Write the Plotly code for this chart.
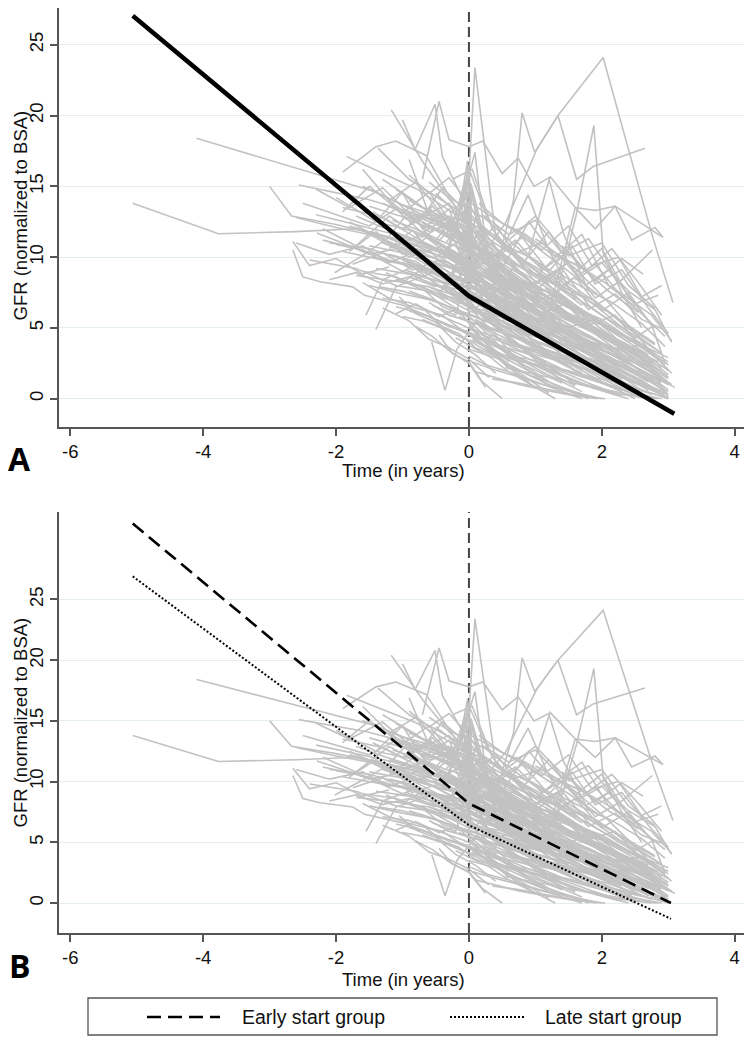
import plotly.graph_objects as go

# ---------------- data ----------------
# Individual patient GFR trajectories (time in years relative to dialysis start, GFR)
trajectories = [
    ([-5.06, -3.77, -2.6, -1.7, -1.0, -0.4, 0.05, 0.6, 1.2], [13.8, 11.65, 11.8, 12.0, 11.2, 10.3, 9.0, 7.1, 5.4]),
    ([-4.1, -1.4, -0.7, 0.02, 0.5, 1.1, 1.7], [18.4, 14.6, 13.0, 11.3, 9.4, 7.5, 5.0]),
    ([-3.0, -2.67, -2.0, -1.3, -0.6, 0.0, 0.6, 1.3], [15.0, 12.9, 12.3, 11.5, 10.6, 9.6, 6.3, 4.0]),
    ([-2.56, -1.54, -0.9, -0.3, 0.1, 0.6, 1.4, 2.0], [15.1, 14.1, 13.2, 12.3, 11.0, 8.6, 5.3, 3.1]),
    ([-2.65, -2.5, -2.24, -1.75, -1.57, -1.0, -0.4, 0.2, 0.9, 1.6], [10.5, 8.6, 8.26, 7.9, 7.3, 6.6, 5.4, 4.1, 2.6, 0.9]),
    ([-2.02, -1.64, -1.2, -0.6, 0.0, 0.8, 1.5], [8.9, 10.0, 11.4, 9.8, 8.1, 5.2, 3.2]),
    ([-1.55, -1.3, -0.8, -0.2, 0.3, 0.9], [5.9, 8.4, 9.4, 7.6, 5.5, 3.3]),
    ([-0.56, -0.36, -0.18, 0.1, 0.6, 1.2, 1.8], [4.0, 0.6, 3.5, 5.4, 3.1, 1.2, 0.0]),
    ([-1.4, -1.1, -0.5, 0.1, 0.9, 1.6], [4.9, 7.9, 9.0, 6.8, 4.1, 2.0]),
    ([-0.6, -0.05, 0.09, 0.4, 1.0, 1.6, 2.2], [12.5, 11.5, 23.4, 11.5, 9.1, 6.0, 3.8]),
    ([0.1, 0.55, 1.02, 1.34, 2.02, 2.76, 3.07], [9.5, 12.4, 17.6, 20.0, 24.1, 11.5, 6.8]),
    ([0.45, 0.67, 0.8, 0.99, 1.34, 1.62, 1.87, 2.65], [9.8, 14.0, 20.2, 17.4, 20.0, 15.5, 16.4, 17.7]),
    ([1.3, 1.62, 1.88, 2.02, 2.3, 2.6], [7.0, 13.1, 19.3, 10.3, 7.5, 5.0]),
    ([-1.0, -0.81, -0.51, -0.4, 0.0, 0.5, 1.1], [19.7, 17.6, 20.8, 17.1, 13.2, 10.1, 7.6]),
    ([-0.7, -0.45, -0.3, 0.0, 0.21, 0.5, 0.74, 0.98, 1.2, 1.42, 1.8], [15.5, 21.0, 18.3, 17.8, 18.2, 15.9, 17.0, 15.0, 15.6, 11.7, 7.6]),
    ([-1.17, -0.69, -0.3, 0.1, 0.7, 1.3], [20.4, 16.7, 14.1, 12.0, 8.2, 5.6]),
    ([-1.84, -0.78, -0.2, 0.3, 0.9], [17.1, 14.8, 13.0, 11.0, 8.4]),
    ([-1.37, -0.9, -0.4, 0.1, 0.8, 1.5], [17.7, 15.5, 14.0, 12.5, 9.6, 6.8]),
    ([1.2, 1.6, 1.9, 2.2, 2.92], [6.0, 13.5, 12.0, 13.6, 11.4]),
    ([-0.3, 0.09, 0.3, 0.8, 1.4], [10.5, 17.4, 9.0, 6.5, 4.0]),
    ([-0.25, 0.05, 0.35, 0.9], [15.5, 16.2, 12.0, 8.8]),
    ([-0.9, -0.6, -0.1, 0.4], [16.9, 13.0, 11.0, 8.0]),
    ([-1.9, -1.4, -1.1, -0.65, -0.2, 0.2], [16.0, 17.8, 18.2, 17.2, 13.5, 11.0]),
    ([-1.8, -1.2, -0.6, 0.0, 0.5, 1.1, 1.7], [12.5, 11.0, 9.8, 8.0, 6.5, 4.2, 2.0]),
    ([-1.5, -0.9, -0.3, 0.1, 0.6, 1.3, 2.0, 2.6], [10.8, 10.2, 8.5, 7.1, 6.0, 4.8, 2.5, 0.6]),
    ([-1.2, -0.7, -0.2, 0.05, 0.4, 0.9, 1.5], [14.0, 12.2, 11.5, 9.0, 7.8, 5.5, 3.0]),
    ([-0.9, -0.5, -0.1, 0.2, 0.7, 1.4], [9.5, 8.1, 7.4, 5.8, 3.9, 1.2]),
    ([-2.2, -1.6, -1.0, -0.4, 0.0, 0.6, 1.2, 1.9, 2.5], [11.2, 10.5, 9.0, 8.2, 6.5, 5.8, 4.6, 3.1, 1.5]),
    ([-1.0, -0.6, -0.2, 0.0, 0.3, 0.8, 1.4, 2.1], [13.2, 11.8, 12.5, 10.2, 9.4, 7.0, 5.2, 2.8]),
    ([-0.7, -0.4, -0.1, 0.2, 0.6], [7.8, 6.5, 5.9, 4.2, 2.1]),
    ([-1.6, -1.1, -0.5, -0.1, 0.3, 0.9, 1.6, 2.3, 2.9], [9.0, 8.6, 7.5, 6.8, 5.9, 4.5, 3.6, 1.9, 0.4]),
    ([-1.3, -0.8, -0.3, 0.0, 0.4, 1.0], [15.5, 13.9, 12.0, 11.4, 8.8, 6.1]),
    ([-0.5, -0.2, 0.0, 0.3, 0.8, 1.2, 1.8], [10.5, 9.8, 8.7, 8.0, 6.2, 4.9, 2.7]),
    ([-2.4, -1.7, -1.1, -0.6, -0.1, 0.4, 1.0, 1.7], [9.8, 9.2, 8.0, 7.6, 6.1, 5.2, 3.5, 1.8]),
    ([-1.9, -1.3, -0.7, -0.2, 0.1, 0.7, 1.3, 2.0, 2.7], [13.5, 12.8, 11.1, 10.0, 9.0, 8.2, 6.4, 4.5, 2.2]),
    ([-0.8, -0.4, 0.0, 0.3, 0.7, 1.1], [12.0, 10.9, 9.8, 7.5, 5.2, 3.4]),
    ([-1.1, -0.7, -0.3, 0.0, 0.5, 1.2, 1.8, 2.4], [8.4, 7.9, 7.0, 6.2, 5.5, 4.1, 2.6, 1.0]),
    ([-0.6, -0.3, 0.0, 0.2, 0.6, 1.1, 1.7], [6.8, 5.9, 5.5, 4.6, 3.2, 1.9, 0.5]),
    ([-1.4, -0.9, -0.4, 0.0, 0.3, 0.9, 1.5, 2.2], [11.6, 10.0, 10.8, 9.2, 7.0, 6.3, 4.7, 3.0]),
    ([-2.0, -1.4, -0.8, -0.3, 0.0, 0.4], [14.2, 12.5, 11.8, 10.6, 9.5, 7.2]),
    ([-0.4, -0.1, 0.1, 0.5, 1.0, 1.6, 2.3], [8.9, 8.0, 7.4, 6.1, 4.8, 3.3, 1.4]),
    ([-1.2, -0.8, -0.3, 0.0, 0.4, 0.9, 1.5, 2.1, 2.8], [10.2, 9.7, 8.2, 7.9, 6.8, 5.0, 4.1, 2.9, 1.1]),
    ([-0.3, 0.0, 0.2, 0.6, 1.0], [5.2, 4.7, 3.8, 2.2, 0.8]),
    ([-1.7, -1.2, -0.6, -0.1, 0.3, 0.8, 1.4, 2.0, 2.6, 3.0], [12.0, 11.4, 10.1, 9.2, 8.6, 7.5, 6.1, 4.4, 3.2, 1.7]),
    ([-0.9, -0.5, -0.2, 0.1, 0.6, 1.3, 2.0], [11.0, 10.2, 9.3, 8.5, 7.3, 5.4, 3.6]),
    ([-1.5, -1.0, -0.5, 0.0, 0.5, 1.1, 1.6], [8.0, 7.4, 6.9, 5.8, 4.0, 2.7, 1.0]),
    ([-0.6, -0.3, 0.0, 0.3, 0.8, 1.4, 2.0, 2.7], [13.5, 12.0, 11.0, 10.1, 8.7, 6.8, 5.2, 3.1]),
    ([-2.6, -2.0, -1.4, -0.8, -0.3, 0.1, 0.5, 1.0], [12.8, 12.1, 11.5, 10.3, 9.6, 8.1, 6.9, 5.1]),
    ([-0.2, 0.0, 0.2, 0.5, 0.9, 1.4, 2.0, 2.5], [7.0, 6.6, 6.0, 5.1, 4.0, 2.9, 1.4, 0.3]),
    ([-1.0, -0.6, -0.2, 0.1, 0.5, 1.0, 1.7, 2.4, 3.0], [9.8, 9.0, 8.7, 7.8, 6.6, 5.7, 4.2, 2.5, 1.0]),
    ([-1.3, -0.9, -0.5, -0.1, 0.2, 0.7, 1.2], [7.1, 6.8, 6.0, 5.2, 4.5, 2.7, 0.9]),
    ([-0.7, -0.3, 0.0, 0.4, 0.9, 1.5, 2.2, 2.8], [10.9, 10.1, 9.5, 8.9, 7.7, 6.6, 4.8, 3.3]),
    ([-1.9, -1.4, -0.9, -0.4, 0.0, 0.5, 1.1], [10.4, 9.9, 9.4, 8.3, 7.6, 5.9, 4.3]),
    ([-0.5, -0.2, 0.05, 0.3, 0.7, 1.2, 1.9, 2.5, 3.0], [12.6, 11.6, 10.5, 9.7, 8.4, 7.5, 5.7, 4.0, 2.4]),
    ([-1.1, -0.7, -0.3, 0.0, 0.4, 0.8], [6.5, 6.0, 5.1, 4.7, 3.0, 1.5]),
    ([-0.8, -0.5, -0.1, 0.2, 0.6, 1.0, 1.5, 2.1, 2.7], [8.6, 8.0, 7.7, 7.0, 6.4, 5.2, 4.3, 2.8, 1.2]),
    ([-1.6, -1.0, -0.5, -0.1, 0.3, 0.8, 1.4, 2.0], [15.0, 13.7, 12.9, 12.0, 10.4, 9.2, 7.8, 5.9]),
    ([-0.4, -0.1, 0.1, 0.4, 0.8, 1.3], [9.6, 8.8, 8.2, 6.9, 5.3, 3.9]),
    ([-2.1, -1.5, -0.9, -0.4, 0.0, 0.4, 0.9, 1.5, 2.2, 2.9], [11.0, 10.6, 9.7, 8.8, 8.4, 7.6, 6.8, 5.5, 3.9, 2.2]),
    ([-0.6, -0.3, 0.0, 0.3, 0.6, 1.0, 1.4], [7.9, 7.2, 6.9, 5.6, 4.2, 2.9, 1.6]),
    ([-1.0, -0.5, -0.1, 0.2, 0.7, 1.2, 1.8, 2.3], [12.8, 11.9, 10.8, 9.9, 8.0, 6.5, 4.9, 3.2]),
    ([-1.4, -0.9, -0.4, 0.0, 0.3, 0.7], [9.2, 8.8, 7.8, 6.5, 5.0, 2.9]),
    ([-0.3, 0.0, 0.3, 0.7, 1.2, 1.8, 2.4, 3.0], [11.4, 10.6, 9.8, 8.4, 7.1, 5.9, 4.2, 2.9]),
    ([-2.3, -1.8, -1.2, -0.7, -0.2, 0.2, 0.7, 1.3], [13.0, 12.4, 11.7, 10.9, 10.2, 8.8, 7.1, 5.6]),
    ([-0.9, -0.6, -0.2, 0.1, 0.5, 0.9, 1.4, 1.9, 2.4], [6.2, 5.8, 5.0, 4.4, 3.6, 2.5, 1.6, 0.7, 0.0]),
    ([-1.2, -0.8, -0.4, 0.0, 0.5, 1.0, 1.6, 2.2, 2.7], [11.8, 11.2, 10.2, 9.0, 8.1, 6.9, 5.4, 3.8, 2.0]),
    ([-0.5, -0.2, 0.0, 0.3, 0.6, 1.0, 1.5], [14.5, 13.2, 12.6, 10.8, 9.5, 7.9, 6.0]),
    ([-1.7, -1.1, -0.6, -0.2, 0.1, 0.6, 1.1, 1.7, 2.3, 2.9], [8.7, 8.3, 7.9, 7.3, 6.8, 5.9, 4.9, 3.7, 2.3, 0.9]),
    ([-0.8, -0.4, 0.0, 0.2, 0.6, 1.1, 1.6, 2.2], [10.0, 9.4, 8.9, 7.7, 6.9, 5.8, 4.4, 3.0]),
    ([-1.3, -0.8, -0.3, 0.05, 0.4, 0.8, 1.3], [13.8, 12.7, 11.6, 10.9, 9.0, 7.4, 5.7]),
    ([-0.2, 0.05, 0.3, 0.6, 1.0, 1.5, 2.0, 2.6, 3.1], [8.2, 7.8, 7.2, 6.5, 5.7, 4.6, 3.5, 2.0, 0.8]),
    ([-1.0, -0.7, -0.3, 0.0, 0.3, 0.7, 1.2, 1.7], [5.8, 5.5, 4.8, 4.1, 3.3, 2.1, 1.0, 0.2]),
    ([-1.8, -1.3, -0.8, -0.3, 0.0, 0.4, 1.0, 1.6, 2.2, 2.8], [12.2, 11.5, 10.6, 9.9, 9.3, 8.1, 7.0, 5.7, 4.0, 2.6]),
    ([0.0, 0.4, 0.8, 1.2, 1.6, 2.0, 2.4, 2.8], [10.0, 12.3, 9.5, 11.8, 8.9, 10.6, 7.2, 5.0]),
    ([-0.2, 0.3, 0.7, 1.1, 1.5, 1.9, 2.3, 2.62], [8.5, 9.8, 11.2, 9.1, 10.4, 8.3, 9.9, 8.8]),
    ([0.1, 0.5, 0.9, 1.3, 1.7, 2.1, 2.5], [11.5, 9.2, 12.5, 10.0, 11.6, 8.0, 6.5]),
    ([0.0, 0.6, 1.0, 1.5, 1.9, 2.3, 2.76], [9.0, 10.8, 8.2, 9.6, 7.1, 8.4, 10.5]),
    ([0.2, 0.7, 1.2, 1.6, 2.0, 2.4, 2.76], [7.5, 9.3, 7.0, 8.6, 6.2, 7.5, 5.1]),
    ([0.3, 0.8, 1.3, 1.8, 2.2, 2.6, 2.92], [8.0, 6.9, 8.8, 6.3, 7.4, 5.6, 4.9]),
    ([0.1, 0.5, 1.0, 1.5, 2.0, 2.5, 2.98], [6.4, 7.9, 5.9, 6.8, 4.5, 3.1, 1.6]),
    ([0.4, 0.9, 1.4, 1.8, 2.2, 2.62], [9.6, 7.8, 9.2, 6.6, 5.2, 3.8]),
    ([0.2, 0.7, 1.1, 1.6, 2.1, 2.5, 2.8], [12.2, 10.3, 11.0, 9.2, 6.8, 4.6, 3.0]),
    ([0.3, 0.89, 1.2, 1.6], [8.5, 14.4, 10.5, 7.0]),
    ([0.9, 1.22, 1.6, 1.9, 2.2, 2.45, 2.8, 2.92], [10.2, 15.7, 13.5, 13.3, 13.6, 11.2, 12.1, 11.4]),
    ([0.5, 1.0, 1.4, 1.9, 2.3, 2.7, 3.0], [5.5, 6.8, 4.9, 5.6, 3.9, 2.5, 0.1]),
    ([0.0, 0.4, 0.9, 1.3, 1.8, 2.2, 2.6, 2.95], [7.2, 8.1, 6.6, 7.5, 5.2, 5.9, 3.6, 2.4]),
    ([0.6, 1.0, 1.5, 2.0, 2.4, 2.8], [11.2, 12.9, 10.1, 11.0, 8.0, 6.4]),
    ([1.0, 1.4, 1.9, 2.3, 2.6, 2.95], [9.8, 8.0, 9.5, 7.2, 6.0, 4.4]),
    ([-2.3, -1.8, -1.3, -0.8, -0.3, 0.0], [14.8, 13.5, 14.9, 12.6, 13.8, 11.0]),
    ([-1.9, -1.5, -1.0, -0.6, -0.2, 0.1], [13.2, 15.0, 13.1, 14.6, 12.0, 10.5]),
    ([-1.6, -1.2, -0.8, -0.4, 0.0], [16.2, 14.0, 15.3, 13.0, 12.4]),
    ([-2.5, -2.0, -1.5, -1.1, -0.7, -0.3, 0.0], [13.8, 13.0, 12.2, 13.4, 11.7, 12.9, 10.8]),
    ([-1.4, -1.0, -0.7, -0.3, 0.0], [12.5, 14.6, 12.0, 13.4, 9.8]),
    ([-0.9, -0.6, -0.3, 0.0, 0.2], [15.8, 14.5, 15.6, 13.8, 12.0]),
    ([-2.2, -1.7, -1.2, -0.7, -0.3], [12.0, 10.8, 12.9, 11.4, 12.5]),
    ([-1.2, -0.9, -0.5, -0.2, 0.05], [11.5, 13.2, 10.9, 12.4, 14.0]),
    ([-0.7, -0.4, -0.1, 0.02, 0.3], [12.8, 14.9, 13.5, 16.0, 12.5]),
    ([-0.35, -0.1, 0.02, 0.2, 0.5], [11.0, 12.5, 15.0, 10.8, 9.0]),
    ([-1.8, -1.4, -1.0, -0.6, -0.2, 0.1, 0.4], [10.4, 11.8, 10.2, 11.5, 10.0, 10.9, 9.0]),
    ([-2.6, -2.1, -1.6, -1.2, -0.8], [11.0, 10.2, 10.8, 9.6, 10.4]),
    ([-1.3, -0.9, -0.6, -0.3, 0.0, 0.3], [6.4, 5.5, 4.2, 3.6, 2.8, 1.5]),
    ([-1.05, -0.8, -0.5, -0.2, 0.1, 0.4], [7.2, 6.0, 5.4, 4.0, 3.1, 1.8]),
    ([-0.8, -0.55, -0.3, 0.0, 0.25], [5.1, 4.4, 3.4, 2.5, 0.8]),
    ([-0.45, -0.25, 0.0, 0.2, 0.5], [4.5, 3.2, 2.6, 1.2, 0.0]),
    ([-1.6, -1.2, -0.8, -0.4, -0.1, 0.2, 0.6], [8.2, 7.1, 6.4, 5.9, 4.8, 3.9, 2.4]),
    ([-0.2, 0.0, 0.3, 0.6, 0.9, 1.3], [4.3, 3.8, 3.0, 1.9, 1.1, 0.0]),
    ([-0.65, -0.4, -0.15, 0.1, 0.4, 0.8, 1.2], [6.2, 5.1, 4.6, 3.6, 3.0, 1.7, 0.4]),
    ([0.0, 0.5, 1.0, 1.5, 2.0, 2.5], [5.0, 4.2, 3.1, 2.5, 1.2, 0.0]),
    ([0.2, 0.7, 1.2, 1.8, 2.3, 2.9], [4.5, 3.7, 3.0, 2.0, 0.9, 0.2]),
    ([0.0, 0.4, 0.9, 1.4, 1.9], [3.5, 2.9, 1.7, 0.8, 0.0]),
    ([0.5, 1.0, 1.6, 2.1, 2.6, 3.0], [6.0, 4.8, 3.9, 2.4, 1.3, 0.0]),
    ([0.1, 0.6, 1.1, 1.7, 2.2, 2.7], [6.2, 5.0, 4.3, 2.9, 2.0, 0.6]),
    ([0.3, 0.8, 1.3, 1.9, 2.4, 2.9], [3.2, 2.6, 2.2, 1.3, 0.5, 0.0]),
    ([0.8, 1.3, 1.8, 2.3, 2.8, 3.0], [5.2, 4.5, 3.1, 2.6, 1.0, 0.3]),
    ([1.0, 1.5, 2.0, 2.5, 3.0], [7.3, 5.8, 4.4, 3.2, 1.1]),
    ([0.6, 1.1, 1.6, 2.0, 2.5, 2.85], [2.9, 2.3, 1.2, 0.7, 0.2, 0.0]),
    ([1.3, 1.8, 2.2, 2.62, 2.8], [4.8, 4.1, 3.5, 3.8, 3.0]),
    ([0.4, 0.9, 1.4, 2.0, 2.6, 3.0], [7.8, 6.4, 5.5, 3.8, 2.3, 1.0]),
    ([1.5, 2.0, 2.4, 2.76, 2.95], [6.0, 5.2, 4.0, 5.1, 2.5]),
    ([-2.65, -2.4, -2.0, -1.6, -1.2], [11.1, 9.4, 9.9, 8.8, 9.3]),
    ([-2.29, -1.9, -1.5, -1.0], [11.7, 11.0, 10.2, 10.7]),
    ([-1.3, -0.9, -0.5, -0.15, 0.15, 0.5, 0.95, 1.45, 2.0, 2.5], [11.0, 10.3, 9.6, 9.0, 7.9, 7.0, 5.8, 4.6, 3.0, 1.4]),
    ([-0.95, -0.6, -0.25, 0.05, 0.35, 0.75, 1.2, 1.7, 2.2], [9.1, 8.5, 8.0, 7.3, 6.4, 5.6, 4.4, 3.1, 1.8]),
    ([-0.75, -0.45, -0.15, 0.1, 0.4, 0.8, 1.25, 1.75], [11.7, 10.9, 10.1, 9.6, 8.4, 7.1, 5.5, 3.9]),
    ([-1.15, -0.75, -0.35, 0.0, 0.35, 0.8, 1.3, 1.85, 2.4, 2.9], [12.6, 11.9, 11.0, 10.5, 9.1, 7.9, 6.6, 5.0, 3.5, 1.9]),
    ([-0.55, -0.3, -0.05, 0.2, 0.5, 0.9, 1.35], [8.3, 7.6, 7.2, 6.5, 5.2, 4.0, 2.6]),
    ([-0.35, -0.1, 0.15, 0.45, 0.85, 1.3, 1.8, 2.3], [6.0, 5.6, 5.2, 4.5, 3.6, 2.7, 1.5, 0.5]),
    ([-1.45, -1.05, -0.65, -0.3, 0.0, 0.3, 0.7, 1.2, 1.7], [10.0, 9.6, 9.0, 8.6, 8.1, 7.4, 6.2, 5.0, 3.6]),
    ([-0.85, -0.5, -0.2, 0.1, 0.45, 0.9, 1.4, 2.0, 2.6], [13.0, 12.3, 11.8, 10.8, 9.9, 8.6, 7.2, 5.4, 3.6]),
    ([0.05, 0.4, 0.8, 1.2, 1.6, 2.0, 2.4, 2.8], [8.8, 7.9, 7.0, 6.1, 5.0, 3.9, 2.6, 1.2]),
    ([0.1, 0.45, 0.85, 1.3, 1.75, 2.2, 2.65], [10.3, 9.1, 8.2, 6.9, 5.8, 4.2, 2.8]),
    ([0.0, 0.3, 0.65, 1.05, 1.5, 1.95, 2.4, 2.85], [6.0, 5.4, 4.9, 4.0, 3.3, 2.2, 1.3, 0.4]),
    ([0.2, 0.55, 0.95, 1.4, 1.85, 2.3, 2.75], [5.1, 4.6, 3.8, 3.0, 2.3, 1.2, 0.3]),
    ([0.15, 0.5, 0.9, 1.35, 1.8, 2.25], [3.9, 3.1, 2.6, 1.8, 0.9, 0.2]),
    ([0.05, 0.35, 0.7, 1.1, 1.55, 2.0], [2.6, 2.1, 1.6, 1.0, 0.5, 0.0]),
    ([0.4, 0.8, 1.25, 1.7, 2.15, 2.6, 3.0], [8.9, 7.6, 6.7, 5.4, 4.3, 3.0, 1.5]),
    ([0.3, 0.7, 1.1, 1.55, 2.0, 2.45, 2.9], [11.0, 9.5, 8.6, 7.3, 5.9, 4.6, 3.2]),
    ([0.6, 1.0, 1.45, 1.9, 2.35, 2.8], [10.4, 9.3, 7.8, 6.9, 5.2, 3.8]),
    ([0.8, 1.2, 1.65, 2.1, 2.55, 3.0], [8.4, 7.5, 6.3, 5.1, 3.9, 2.6]),
    ([1.1, 1.5, 1.95, 2.4, 2.85], [6.6, 5.6, 4.7, 3.4, 2.0]),
    ([1.4, 1.8, 2.25, 2.7, 3.05], [5.3, 4.5, 3.3, 2.2, 1.0]),
    ([1.7, 2.1, 2.5, 2.9], [3.9, 3.0, 2.0, 0.9]),
    ([0.9, 1.3, 1.7, 2.15, 2.6], [3.6, 3.0, 2.2, 1.5, 0.6]),
    ([1.2, 1.6, 2.0, 2.4, 2.8], [2.4, 1.7, 1.1, 0.6, 0.0]),
    ([-1.25, -0.85, -0.45, -0.1, 0.2, 0.55, 0.95, 1.4], [8.9, 8.0, 7.2, 6.7, 5.9, 5.0, 3.8, 2.6]),
    ([-0.7, -0.4, -0.1, 0.15, 0.45, 0.8, 1.2], [5.6, 5.0, 4.3, 3.9, 3.1, 2.2, 1.2]),
    ([-0.25, 0.0, 0.25, 0.55, 0.9, 1.3, 1.75, 2.2], [9.2, 9.0, 8.2, 7.4, 6.3, 5.2, 3.9, 2.4]),
    ([-2.0, -1.6, -1.2, -0.8, -0.4, 0.0, 0.35, 0.75], [10.9, 10.5, 9.8, 9.4, 8.9, 8.3, 7.6, 6.3]),
    ([-1.7, -1.3, -0.9, -0.5, -0.1, 0.2, 0.6], [12.9, 12.1, 11.4, 10.6, 10.0, 9.0, 7.6]),
    ([-1.1, -0.75, -0.4, -0.1, 0.15, 0.5, 0.9, 1.35, 1.8, 2.3], [14.8, 13.6, 12.8, 12.2, 11.6, 10.3, 8.9, 7.5, 5.9, 4.4]),
    ([-0.6, -0.3, 0.0, 0.25, 0.6, 1.0, 1.45, 1.95, 2.5], [15.3, 14.2, 13.4, 12.7, 11.2, 9.6, 8.1, 6.4, 4.3]),
    ([-0.45, -0.2, 0.05, 0.35, 0.75, 1.2, 1.7], [13.0, 12.5, 11.9, 11.1, 9.9, 8.4, 6.6]),
    ([0.0, 0.3, 0.6, 1.0, 1.4, 1.85, 2.3, 2.8], [12.5, 11.6, 10.7, 9.8, 8.5, 7.0, 5.5, 3.9]),
    ([0.15, 0.5, 0.85, 1.25, 1.7, 2.1, 2.55], [13.8, 12.4, 11.6, 10.2, 9.3, 7.6, 6.1]),
    ([-0.1, 0.1, 0.35, 0.7, 1.1, 1.5, 1.95], [14.2, 13.6, 12.9, 11.8, 10.4, 9.0, 7.3]),
    ([-1.5, -1.1, -0.7, -0.35, 0.0, 0.3, 0.65, 1.05], [13.6, 13.0, 12.5, 11.6, 11.0, 10.0, 8.8, 7.4]),
    ([-0.3, 0.0, 0.3, 0.65, 1.05, 1.5, 2.0, 2.6, 3.0], [7.5, 7.0, 6.6, 6.0, 5.0, 3.9, 2.9, 1.5, 0.5]),
    ([-0.9, -0.55, -0.25, 0.05, 0.35, 0.7, 1.1, 1.55], [7.6, 7.0, 6.4, 5.9, 5.3, 4.4, 3.4, 2.2]),
    ([-0.15, 0.1, 0.4, 0.75, 1.15, 1.6, 2.05, 2.5, 2.95], [5.8, 5.3, 4.9, 4.2, 3.5, 2.8, 2.0, 1.1, 0.2]),
    ([0.5, 0.9, 1.3, 1.75, 2.2, 2.65, 3.0], [4.2, 3.6, 2.9, 2.5, 1.7, 1.0, 0.0]),
    ([0.25, 0.6, 1.0, 1.45, 1.9, 2.35, 2.8], [7.0, 6.3, 5.6, 4.8, 3.9, 2.9, 1.8]),
    ([-0.05, 0.2, 0.55, 0.95, 1.4, 1.85, 2.3], [4.8, 4.3, 3.6, 2.7, 1.9, 1.0, 0.2]),
    ([0.1, 0.4, 0.75, 1.15, 1.6, 2.05], [1.9, 1.5, 1.0, 0.6, 0.2, 0.0]),
    ([0.7, 1.1, 1.5, 1.95, 2.4, 2.85], [7.9, 6.8, 6.0, 4.9, 3.7, 2.6]),
    ([1.0, 1.4, 1.85, 2.3, 2.75, 3.05], [11.3, 10.0, 8.8, 7.4, 5.9, 4.1]),
    ([1.3, 1.7, 2.15, 2.6, 2.95], [9.0, 7.9, 6.8, 5.3, 3.7]),
    ([-1.35, -1.0, -0.6, -0.25, 0.05, 0.4], [7.9, 7.6, 7.0, 6.4, 5.6, 4.8]),
    ([-0.2, 0.05, 0.3, 0.6, 0.95, 1.35, 1.8, 2.25, 2.7], [10.7, 10.2, 9.6, 8.6, 7.6, 6.4, 5.1, 3.8, 2.4]),
    ([0.35, 0.7, 1.1, 1.5, 1.95, 2.4, 2.85], [6.0, 5.3, 4.4, 3.8, 2.9, 2.2, 1.4]),
    ([0.55, 0.95, 1.4, 1.85, 2.3, 2.75], [2.2, 1.8, 1.3, 0.8, 0.3, 0.0]),
    ([-0.5, -0.25, 0.0, 0.3, 0.65, 1.05, 1.5, 2.0], [9.8, 9.3, 8.6, 8.0, 7.0, 5.8, 4.7, 3.4]),
    ([-0.5, -0.1, -0.02, 0.03, 0.3, 0.8], [11.2, 13.5, 9.0, 15.2, 10.1, 7.5]),
    ([-0.8, -0.2, 0.0, 0.06, 0.4, 1.0], [13.0, 12.0, 16.5, 10.0, 8.7, 6.2]),
    ([-0.4, -0.08, 0.01, 0.1, 0.5], [9.5, 14.0, 11.0, 12.8, 8.0]),
    ([-0.6, -0.15, -0.03, 0.04, 0.35, 0.9], [10.8, 9.9, 13.8, 8.4, 7.2, 4.8]),
    ([-0.25, -0.05, 0.02, 0.12, 0.45, 1.0], [12.2, 15.5, 10.5, 11.7, 8.2, 5.9]),
    ([-0.9, -0.3, -0.04, 0.05, 0.3, 0.7, 1.2], [14.0, 12.6, 11.0, 14.7, 9.3, 7.8, 5.0]),
    ([-0.35, -0.1, 0.0, 0.08, 0.25, 0.6], [8.0, 10.4, 7.2, 9.8, 6.1, 4.9]),
    ([-0.2, -0.02, 0.05, 0.2, 0.5, 0.9], [11.8, 16.8, 9.4, 10.2, 7.4, 5.6]),
    ([-0.7, -0.25, -0.06, 0.03, 0.2, 0.55, 1.1], [12.4, 11.3, 14.8, 12.0, 9.7, 8.3, 6.0]),
    ([-0.45, -0.12, -0.01, 0.07, 0.3], [7.4, 9.9, 12.3, 8.3, 6.0]),
    ([-0.15, 0.0, 0.04, 0.15, 0.4, 0.85, 1.4], [9.0, 6.1, 10.6, 8.0, 6.6, 4.6, 2.5]),
    ([-0.55, -0.2, -0.05, 0.02, 0.2, 0.6], [6.6, 5.9, 8.8, 5.0, 4.2, 2.6]),
    ([0.1, 0.4, 0.8, 1.2, 1.6, 2.0, 2.45], [5.6, 4.8, 4.2, 3.4, 2.6, 1.6, 0.6]),
    ([0.3, 0.65, 1.0, 1.4, 1.8, 2.2, 2.6], [4.0, 3.5, 3.0, 2.1, 1.6, 0.8, 0.1]),
    ([0.0, 0.25, 0.6, 0.95, 1.35, 1.7], [3.0, 2.4, 1.9, 1.3, 0.6, 0.0]),
    ([0.45, 0.85, 1.25, 1.65, 2.1, 2.5, 2.9], [6.6, 5.7, 5.0, 4.1, 3.2, 2.2, 1.2]),
    ([0.7, 1.05, 1.45, 1.85, 2.25, 2.65], [5.0, 4.3, 3.7, 2.7, 1.8, 0.9]),
    ([0.2, 0.5, 0.85, 1.25, 1.65, 2.05, 2.5, 2.95], [7.6, 6.8, 6.0, 5.3, 4.4, 3.4, 2.5, 1.3]),
    ([1.0, 1.35, 1.75, 2.15, 2.55, 2.95], [4.0, 3.4, 2.6, 1.9, 1.1, 0.3]),
    ([0.35, 0.75, 1.15, 1.55, 1.95], [1.4, 1.1, 0.7, 0.3, 0.0]),
    ([0.6, 1.0, 1.4, 1.8, 2.25, 2.7, 3.0], [6.9, 6.1, 5.2, 4.3, 3.5, 2.3, 1.4]),
    ([0.15, 0.45, 0.85, 1.25, 1.7, 2.15, 2.6, 3.0], [9.4, 8.4, 7.5, 6.4, 5.5, 4.4, 3.3, 2.0]),
    ([0.85, 1.25, 1.7, 2.1, 2.5, 2.9], [9.6, 8.3, 7.2, 6.1, 4.6, 3.2]),
    ([1.15, 1.55, 2.0, 2.4, 2.8, 3.05], [7.8, 6.5, 5.6, 4.3, 3.0, 1.8]),
    ([1.5, 1.9, 2.3, 2.7, 3.0], [4.5, 3.6, 2.8, 1.7, 0.6]),
    ([1.8, 2.2, 2.6, 2.95], [2.9, 2.1, 1.2, 0.4]),
    ([0.05, 0.3, 0.6, 1.0, 1.4], [4.2, 3.6, 2.9, 2.0, 1.1]),
    ([0.5, 0.9, 1.3, 1.7, 2.1, 2.55, 3.0], [3.1, 2.8, 2.2, 1.6, 1.3, 0.7, 0.0]),
    ([0.4, 0.8, 1.2, 1.55, 1.9, 2.3, 2.7, 3.0], [9.9, 11.4, 9.0, 10.8, 8.1, 9.1, 6.4, 4.6]),
    ([0.7, 1.1, 1.5, 1.85, 2.25, 2.6, 2.9], [12.0, 10.5, 12.2, 9.4, 10.0, 7.2, 8.0]),
    ([1.0, 1.35, 1.75, 2.1, 2.5, 2.85], [8.6, 10.2, 8.0, 9.1, 6.7, 7.3]),
    ([1.4, 1.75, 2.15, 2.55, 2.9], [10.8, 9.0, 10.6, 8.2, 5.9]),
    ([0.2, 0.6, 1.0, 1.4, 1.8, 2.2], [13.0, 11.6, 12.6, 10.3, 11.3, 8.6]),
    ([1.6, 2.0, 2.4, 2.8, 3.05], [8.4, 9.6, 7.6, 6.3, 4.0]),
    ([-1.6, -1.15, -0.7, -0.3, 0.0], [11.9, 10.7, 11.6, 10.2, 9.8]),
    ([-1.2, -0.85, -0.5, -0.2, 0.0], [10.6, 11.9, 10.0, 11.0, 8.6]),
    ([-1.0, -0.7, -0.35, -0.1, 0.05], [8.2, 9.2, 8.4, 9.4, 7.9]),
    ([-1.75, -1.3, -0.85, -0.45, -0.1], [9.5, 10.3, 9.1, 9.8, 8.7]),
    ([-0.9, -0.55, -0.25, -0.05], [12.3, 13.6, 12.1, 13.0]),
    ([-1.45, -1.0, -0.6, -0.25, 0.0], [13.2, 12.0, 13.0, 11.2, 12.0]),
    ([-2.1, -1.7, -1.3, -0.9, -0.5], [8.4, 8.9, 8.1, 8.6, 7.9]),
    ([-1.1, -0.8, -0.45, -0.15], [6.0, 6.7, 5.8, 6.4]),
]

# Fitted piecewise-linear (mixed model) lines
fit_x = [-5.06, 0.0, 3.09]
overall_gfr = [27.05, 7.25, -1.06]
group_x = [-5.06, 0.0, 3.04]
early_gfr = [31.25, 8.2, 0.0]
late_gfr = [26.9, 6.4, -1.3]

x_range = [-6.17, 4.17]
y_range_a = [-2.0, 27.6]
y_range_b = [-2.47, 32.2]
x_ticks = [-6, -4, -2, 0, 2, 4]
x_tick_text = ["-6", "-4", "-2", "0", "2", "4"]
y_ticks = [0, 5, 10, 15, 20, 25]
x_title = "Time (in years)"
y_title = "GFR (normalized to BSA)"
legend_labels = ["Early start group", "Late start group"]

# ---------------- figure ----------------
# the page body has an 8px margin, so the figure is placed at (8, 8)
OFF = 8
W, H = 752 - OFF, 1040 - OFF


def px(x):
    return min(1.0, max(0.0, (x - OFF) / W))


def py(y):
    return min(1.0, max(0.0, 1 - (y - OFF) / H))


spag_x, spag_y = [], []
for t, g in trajectories:
    spag_x += list(t) + [None]
    spag_y += list(g) + [None]

GRAY = "#c2c2c2"
fig = go.Figure()

# vertical dashed reference line at time 0 (drawn first, beneath the data)
for xa, ya, yr in (("x", "y", y_range_a), ("x2", "y2", y_range_b)):
    fig.add_trace(go.Scatter(x=[0, 0], y=yr, mode="lines", xaxis=xa, yaxis=ya,
                             line=dict(color="#444444", width=2, dash="10px,5px"),
                             hoverinfo="skip", showlegend=False))

for xa, ya in (("x", "y"), ("x2", "y2")):
    fig.add_trace(go.Scatter(x=spag_x, y=spag_y, mode="lines", xaxis=xa, yaxis=ya,
                             line=dict(color=GRAY, width=1.6), connectgaps=False,
                             hoverinfo="skip", showlegend=False))

fig.add_trace(go.Scatter(x=fit_x, y=overall_gfr, mode="lines", xaxis="x", yaxis="y",
                         line=dict(color="black", width=4.5), showlegend=False))
fig.add_trace(go.Scatter(x=group_x, y=early_gfr, mode="lines", xaxis="x2", yaxis="y2",
                         line=dict(color="black", width=2.6, dash="14px,7px"), showlegend=False))
fig.add_trace(go.Scatter(x=group_x, y=late_gfr, mode="lines", xaxis="x2", yaxis="y2",
                         line=dict(color="black", width=2, dash="2px,2px"), showlegend=False))

FONT = "Liberation Sans, Arial, Helvetica, sans-serif"
AX = "#555555"
GRID = "#e3eef2"

xcommon = dict(range=x_range, tickvals=x_ticks, ticktext=x_tick_text, showgrid=False, zeroline=False,
               showline=True, linecolor=AX, linewidth=1.5, ticks="outside", ticklen=7,
               tickwidth=1.5, tickcolor=AX, tickfont=dict(family=FONT, size=18.5, color="#111"),
               domain=[px(59), px(746)])
ycommon = dict(tickvals=y_ticks, showgrid=True, gridcolor=GRID, gridwidth=1.2, zeroline=False,
               showline=True, linecolor=AX, linewidth=1.5, ticks="outside", ticklen=7,
               tickwidth=1.5, tickcolor=AX, tickangle=-90,
               tickfont=dict(family=FONT, size=18.5, color="#111"))

fig.update_layout(
    width=W, height=H, margin=dict(l=0, r=0, t=0, b=0),
    paper_bgcolor="white", plot_bgcolor="white", showlegend=False,
    xaxis=dict(anchor="y", **xcommon),
    yaxis=dict(anchor="x", range=y_range_a, domain=[py(427), py(8)], **ycommon),
    xaxis2=dict(anchor="y2", **xcommon),
    yaxis2=dict(anchor="x2", range=y_range_b, domain=[py(933), py(512)], **ycommon),
)

ann = []
for yc in (215.5, 722.5):
    ann.append(dict(text=y_title, x=px(20), y=py(yc), xref="paper", yref="paper", textangle=-90,
                    showarrow=False, xanchor="center", yanchor="middle",
                    font=dict(family=FONT, size=18.5, color="#111")))
for yc in (470, 979):
    ann.append(dict(text=x_title, x=px(403), y=py(yc), xref="paper", yref="paper",
                    showarrow=False, xanchor="center", yanchor="middle",
                    font=dict(family=FONT, size=18.5, color="#111")))
for lab, xc, yc in (("A", 19, 458), ("B", 20, 965)):
    ann.append(dict(text="<b>" + lab + "</b>", x=px(xc), y=py(yc), xref="paper", yref="paper",
                    showarrow=False, xanchor="center", yanchor="middle",
                    font=dict(family="Open Sans, Liberation Sans, sans-serif", size=32, color="black")))

# legend box
fig.add_shape(type="rect", xref="paper", yref="paper", x0=px(88), x1=px(717), y0=py(1035), y1=py(998),
              line=dict(color=AX, width=1.3), fillcolor="white")
fig.add_shape(type="line", xref="paper", yref="paper", x0=px(147), x1=px(220), y0=py(1017), y1=py(1017),
              line=dict(color="black", width=2.6, dash="14px,7px"))
fig.add_shape(type="line", xref="paper", yref="paper", x0=px(450), x1=px(524), y0=py(1017), y1=py(1017),
              line=dict(color="black", width=2, dash="2px,2px"))
for lab, xl in zip(legend_labels, (240, 543)):
    ann.append(dict(text=lab, x=px(xl), y=py(1017), xref="paper", yref="paper", showarrow=False,
                    xanchor="left", yanchor="middle", font=dict(family=FONT, size=19.5, color="#111")))

fig.update_layout(annotations=ann)
fig.write_html("out.html")
